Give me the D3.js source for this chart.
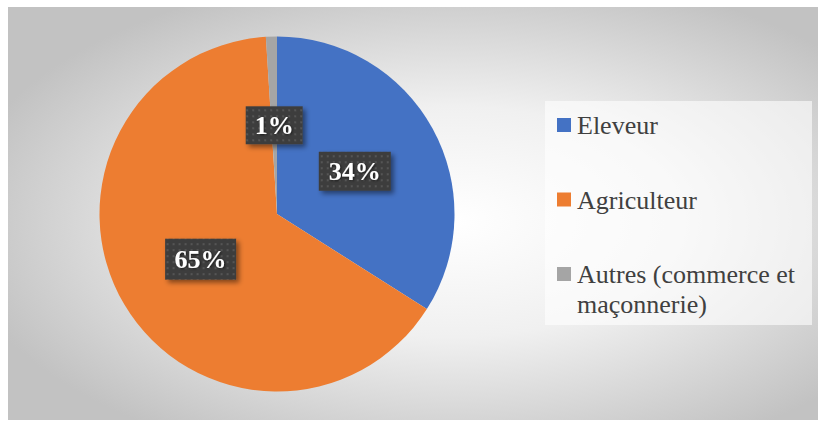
<!DOCTYPE html>
<html>
<head>
<meta charset="utf-8">
<script src="https://cdn.jsdelivr.net/npm/d3@7/dist/d3.min.js"></script>
<style>
  html, body { margin: 0; padding: 0; background: #ffffff; }
  svg { display: block; }
  .serif { font-family: "Liberation Serif", "Times New Roman", "DejaVu Serif", serif; }
</style>
</head>
<body>
<svg id="chart" width="818" height="422"></svg>
<script>
// Répartition des activités
const categories = ["Eleveur", "Agriculteur", "Autres (commerce et maçonnerie)"];
const legendLines = [["Eleveur"], ["Agriculteur"], ["Autres (commerce et", "maçonnerie)"]];
const values = [34, 65, 1];
const colors = ["#4472C4", "#ED7D31", "#A5A5A5"];

const W = 818, H = 422;
const svg = d3.select("#chart");
const defs = svg.append("defs");

// Background: soft radial gradient, white centre to grey edges
const bg = defs.append("radialGradient").attr("id", "bgGrad")
  .attr("cx", "55%").attr("cy", "52%").attr("r", "62%");
bg.append("stop").attr("offset", "0%").attr("stop-color", "#ffffff");
bg.append("stop").attr("offset", "45%").attr("stop-color", "#f0f0f0");
bg.append("stop").attr("offset", "100%").attr("stop-color", "#c2c2c2");

// Dotted dark texture for data labels
const pat = defs.append("pattern").attr("id", "dots")
  .attr("patternUnits", "userSpaceOnUse").attr("width", 6).attr("height", 6);
pat.append("rect").attr("width", 6).attr("height", 6).attr("fill", "#3e3e3e");
pat.append("rect").attr("x", 2).attr("y", 2).attr("width", 2).attr("height", 2).attr("fill", "#555555");

// Drop shadow for label boxes
const sh = defs.append("filter").attr("id", "shadow")
  .attr("x", "-30%").attr("y", "-30%").attr("width", "170%").attr("height", "170%");
sh.append("feDropShadow").attr("dx", 3).attr("dy", 3).attr("stdDeviation", 2.5)
  .attr("flood-color", "#000").attr("flood-opacity", 0.45);

const txtShadow = defs.append("filter").attr("id", "tshadow")
  .attr("x", "-20%").attr("y", "-20%").attr("width", "150%").attr("height", "150%");
txtShadow.append("feDropShadow").attr("dx", 1).attr("dy", 1).attr("stdDeviation", 0.8)
  .attr("flood-color", "#000").attr("flood-opacity", 0.6);

// Chart area
svg.append("rect").attr("x", 8).attr("y", 7).attr("width", W - 8).attr("height", 413)
  .attr("fill", "url(#bgGrad)");

// Pie
const cx = 277, cy = 214, R = 177.5;
const pie = d3.pie().sort(null).value(d => d)(values);
const arc = d3.arc().innerRadius(0).outerRadius(R);
const g = svg.append("g").attr("transform", `translate(${cx},${cy})`);

g.selectAll("path.slice").data(pie).join("path")
  .attr("class", "slice")
  .attr("d", arc)
  .attr("fill", (d, i) => colors[i]);

// Data labels at half radius
const boxSizes = [[72, 39], [71, 41], [57, 38]];
const lbl = g.selectAll("g.lbl").data(pie).join("g")
  .attr("class", "lbl")
  .attr("transform", d => { const c = arc.centroid(d); return `translate(${c[0]},${c[1]})`; });

lbl.append("rect")
  .attr("x", (d, i) => -boxSizes[i][0] / 2)
  .attr("y", (d, i) => -boxSizes[i][1] / 2)
  .attr("width", (d, i) => boxSizes[i][0])
  .attr("height", (d, i) => boxSizes[i][1])
  .attr("fill", "url(#dots)")
  .attr("filter", "url(#shadow)");

lbl.append("text")
  .attr("class", "serif")
  .attr("text-anchor", "middle")
  .attr("dy", "0.35em")
  .attr("font-weight", "bold")
  .attr("font-size", 26)
  .attr("fill", "#ffffff")
  .attr("filter", "url(#tshadow)")
  .text(d => d.data + "%");

// Legend
const legend = svg.append("g");
legend.append("rect").attr("x", 545).attr("y", 101).attr("width", 267).attr("height", 224)
  .attr("fill", "#ffffff").attr("fill-opacity", 0.6);

const baselines = [134, 208.5, 283];
categories.forEach((c, i) => {
  legend.append("rect")
    .attr("x", 557).attr("y", baselines[i] - 16).attr("width", 14).attr("height", 14)
    .attr("fill", colors[i]);
  const t = legend.append("text")
    .attr("class", "serif")
    .attr("x", 577).attr("y", baselines[i])
    .attr("font-size", 26)
    .attr("fill", "#404040");
  legendLines[i].forEach((line, j) => {
    t.append("tspan").attr("x", 577).attr("dy", j === 0 ? 0 : 29.5).text(line);
  });
});
</script>
</body>
</html>
